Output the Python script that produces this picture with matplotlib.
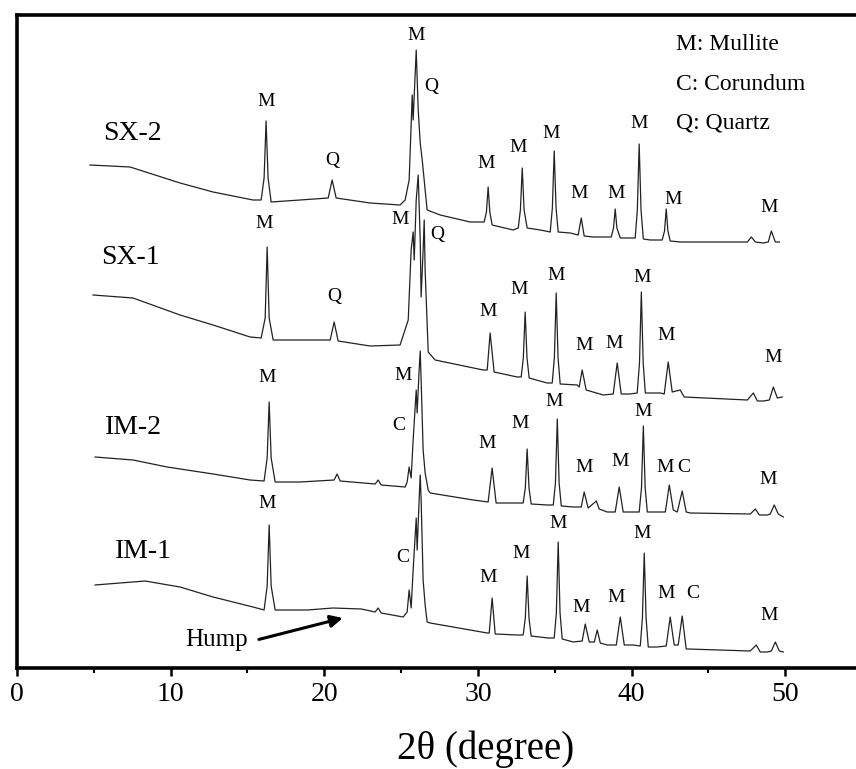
import numpy as np
from matplotlib import pyplot as plt

plt.rcParams['font.family'] = ['Liberation Serif', 'DejaVu Serif']

# traces: 2theta [deg], intensity [a.u., offset already included]
sx2_x = [4.75, 7.36, 10.61, 12.76, 15.36, 15.89, 16.08, 16.21, 16.34, 16.54, 18.42, 20.25, 20.51,
         20.77, 22.98, 24.93, 25.26, 25.52, 25.72, 25.78, 25.98, 26.11, 26.24, 26.37, 26.69,
         27.54, 29.49, 30.40, 30.55, 30.66, 30.77, 30.92, 32.29, 32.62, 32.76, 32.88, 33.00,
         33.20, 34.05, 34.70, 34.84, 34.96, 35.08, 35.22, 36.00, 36.52, 36.72, 36.91, 37.50,
         38.67, 38.82, 38.93, 39.04, 39.26, 39.71, 40.23, 40.37, 40.49, 40.61, 40.76, 41.21,
         41.99, 42.14, 42.25, 42.36, 42.51, 43.16, 47.53, 47.79, 48.05, 48.57, 48.89, 49.09,
         49.35, 49.61]
sx2_y = [503, 501, 485, 476, 468, 468, 490, 547, 490, 466, 468, 470, 488,
         470, 465, 463, 468, 488, 573, 548, 618, 558, 525, 508, 458,
         453, 446, 446, 456, 481, 456, 443, 438, 440, 458, 500, 458,
         440, 438, 436, 460, 517, 460, 436, 435, 433, 450, 432, 431,
         431, 440, 459, 440, 430, 430, 430, 458, 524, 458, 429, 428,
         428, 437, 459, 437, 427, 426, 426, 431, 426, 425, 426, 437,
         426, 426]

sx1_x = [4.95, 7.55, 10.61, 12.76, 15.17, 15.89, 16.15, 16.28, 16.41, 16.67, 18.42, 20.38, 20.64,
         20.90, 22.98, 24.93, 25.46, 25.65, 25.78, 25.85, 25.98, 26.11, 26.24, 26.30, 26.43,
         26.50, 26.56, 26.76, 27.21, 30.34, 30.60, 30.79, 31.05, 32.55, 32.81, 32.95, 33.07,
         33.19, 33.33, 34.50, 34.83, 34.97, 35.09, 35.21, 35.35, 36.46, 36.59, 36.78, 37.04,
         38.15, 38.80, 39.06, 39.32, 39.90, 40.36, 40.51, 40.63, 40.75, 40.89, 41.86, 42.12,
         42.38, 42.64, 43.16, 43.42, 47.53, 47.92, 48.18, 48.57, 48.96, 49.22, 49.48, 49.80]
sx1_y = [373, 370, 353, 343, 331, 330, 350, 421, 350, 328, 328, 328, 346,
         327, 322, 323, 348, 418, 436, 408, 468, 493, 428, 371, 418,
         448, 398, 316, 308, 298, 298, 335, 296, 291, 291, 310, 356,
         310, 290, 285, 285, 310, 375, 310, 284, 283, 281, 298, 278,
         273, 274, 305, 274, 274, 275, 305, 376, 305, 275, 275, 274,
         306, 276, 278, 271, 268, 275, 267, 267, 268, 281, 270, 271]

im2_x = [5.08, 7.55, 9.77, 12.76, 15.17, 16.08, 16.28, 16.41, 16.54, 16.80, 18.42, 20.64, 20.83,
         21.03, 23.31, 23.50, 23.70, 25.26, 25.39, 25.52, 25.65, 25.78, 25.98, 26.04, 26.17,
         26.24, 26.30, 26.43, 26.56, 26.76, 26.89, 29.69, 30.66, 30.92, 31.18, 32.29, 32.94,
         33.08, 33.20, 33.32, 33.46, 34.50, 34.90, 35.04, 35.16, 35.28, 35.42, 36.20, 36.72,
         36.91, 37.17, 37.70, 37.89, 38.41, 38.93, 39.19, 39.45, 40.04, 40.49, 40.64, 40.76,
         40.88, 41.02, 41.67, 42.19, 42.45, 42.71, 42.97, 43.29, 43.55, 43.82, 47.72, 48.05,
         48.31, 48.83, 49.02, 49.28, 49.54, 49.87]
im2_y = [211, 208, 201, 194, 188, 187, 210, 266, 210, 186, 186, 188, 194,
         187, 184, 188, 183, 181, 186, 201, 190, 228, 278, 255, 298,
         317, 288, 218, 195, 178, 175, 168, 166, 200, 165, 165, 165,
         180, 219, 180, 164, 163, 163, 185, 249, 185, 162, 161, 161,
         176, 160, 167, 159, 156, 156, 181, 156, 156, 156, 180, 242,
         180, 156, 156, 156, 183, 158, 156, 177, 156, 155, 154, 159,
         153, 153, 154, 163, 154, 151]

im1_x = [5.08, 6.70, 8.33, 10.61, 12.76, 15.36, 16.08, 16.28, 16.41, 16.54, 16.80, 18.90, 20.57,
         22.40, 23.31, 23.50, 23.70, 25.13, 25.39, 25.52, 25.65, 25.78, 25.98, 26.04, 26.17,
         26.24, 26.30, 26.43, 26.56, 26.69, 26.89, 30.60, 30.73, 30.92, 31.12, 32.55, 32.94,
         33.08, 33.20, 33.32, 33.46, 34.57, 34.96, 35.10, 35.22, 35.34, 35.48, 36.20, 36.78,
         36.98, 37.24, 37.57, 37.76, 37.96, 38.41, 39.00, 39.26, 39.52, 40.10, 40.56, 40.70,
         40.82, 40.94, 41.08, 41.67, 42.25, 42.51, 42.77, 43.03, 43.29, 43.55, 43.68, 47.72,
         48.11, 48.37, 48.83, 49.09, 49.35, 49.61, 49.87]
im1_y = [83, 85, 87, 81, 71, 61, 58, 82, 143, 82, 58, 58, 60,
         59, 56, 60, 55, 51, 56, 78, 60, 98, 150, 118, 168,
         193, 168, 88, 63, 46, 45, 35, 35, 70, 34, 33, 33,
         50, 92, 50, 32, 30, 30, 55, 126, 55, 29, 26, 27,
         44, 26, 26, 38, 25, 23, 23, 51, 23, 23, 22, 50,
         115, 50, 21, 21, 22, 51, 23, 23, 52, 19, 19, 17,
         23, 16, 16, 17, 26, 17, 16]

# phase marks: (2theta, y, letter)
sx2_marks = [(16.21, 566, 'M'), (20.51, 508, 'Q'), (25.98, 633, 'M'), (26.95, 581, 'Q'),
             (30.53, 505, 'M'), (32.62, 520, 'M'), (34.77, 534, 'M'), (36.59, 475, 'M'),
             (39.00, 475, 'M'), (40.49, 544, 'M'), (42.71, 468, 'M'), (48.96, 461, 'M')]
sx1_marks = [(16.08, 444, 'M'), (20.64, 371, 'Q'), (24.93, 448, 'M'), (27.34, 433, 'Q'),
             (30.66, 356, 'M'), (32.68, 379, 'M'), (35.09, 392, 'M'), (36.91, 322, 'M'),
             (38.87, 325, 'M'), (40.69, 390, 'M'), (42.25, 333, 'M'), (49.22, 311, 'M')]
im2_marks = [(16.28, 290, 'M'), (25.13, 293, 'M'), (24.87, 243, 'C'), (30.60, 225, 'M'),
             (32.75, 245, 'M'), (34.96, 267, 'M'), (36.91, 201, 'M'), (39.26, 207, 'M'),
             (40.76, 256, 'M'), (42.19, 200, 'M'), (43.36, 200, 'C'), (48.89, 189, 'M')]
im1_marks = [(16.28, 165, 'M'), (25.13, 111, 'C'), (30.66, 91, 'M'), (32.81, 114, 'M'),
             (35.22, 145, 'M'), (36.72, 61, 'M'), (39.00, 71, 'M'), (40.69, 135, 'M'),
             (42.25, 75, 'M'), (43.95, 75, 'C'), (48.96, 53, 'M')]

samples = ['SX-2', 'SX-1', 'IM-2', 'IM-1']
sample_pos = [(7.49, 535), (7.36, 410), (7.55, 240), (8.20, 116)]
phases = ['M: Mullite', 'C: Corundum', 'Q: Quartz']

fig = plt.figure(figsize=(8.56, 7.69), dpi=100)
ax = fig.add_axes([17/856, 101/769, 1 - 17/856, 653/769])

for xs, ys in [(sx2_x, sx2_y), (sx1_x, sx1_y), (im2_x, im2_y), (im1_x, im1_y)]:
    ax.plot(xs, ys, color='#222222', lw=0.9)

for marks in [sx2_marks, sx1_marks, im2_marks, im1_marks]:
    for mx, my, s in marks:
        ax.text(mx, my, s, ha='center', va='center', fontsize=14)

for name, (sx, sy) in zip(samples, sample_pos):
    ax.text(sx, sy, name, ha='center', va='center', fontsize=20)

for i, p in enumerate(phases):
    ax.text(42.9, 623 - i*39, p, ha='left', va='center', fontsize=17)

ax.annotate('Hump', xy=(21.2, 50), xytext=(13.0, 28), fontsize=18,
            ha='center', va='center',
            arrowprops=dict(arrowstyle='-|>', lw=2.2, color='black', relpos=(1.0, 0.4),
                            mutation_scale=18, shrinkA=6, shrinkB=0))

ax.set_xlim(0, 54.6)
ax.set_ylim(0, 653)
ax.set_xticks(np.arange(0, 51, 10))
ax.set_xticks(np.arange(5, 51, 10), minor=True)
ax.set_yticks([])
ax.tick_params(axis='x', which='major', direction='out', length=6, width=1.8, labelsize=20, pad=4)
ax.tick_params(axis='x', which='minor', direction='out', length=3.5, width=1.5)
for s in ['left', 'bottom', 'top']:
    ax.spines[s].set_linewidth(2.6)
ax.spines['right'].set_visible(False)
ax.set_xlabel('2θ (degree)', fontsize=28)
ax.xaxis.set_label_coords(0.559, -0.095)

fig.savefig('out.png', dpi=100)
